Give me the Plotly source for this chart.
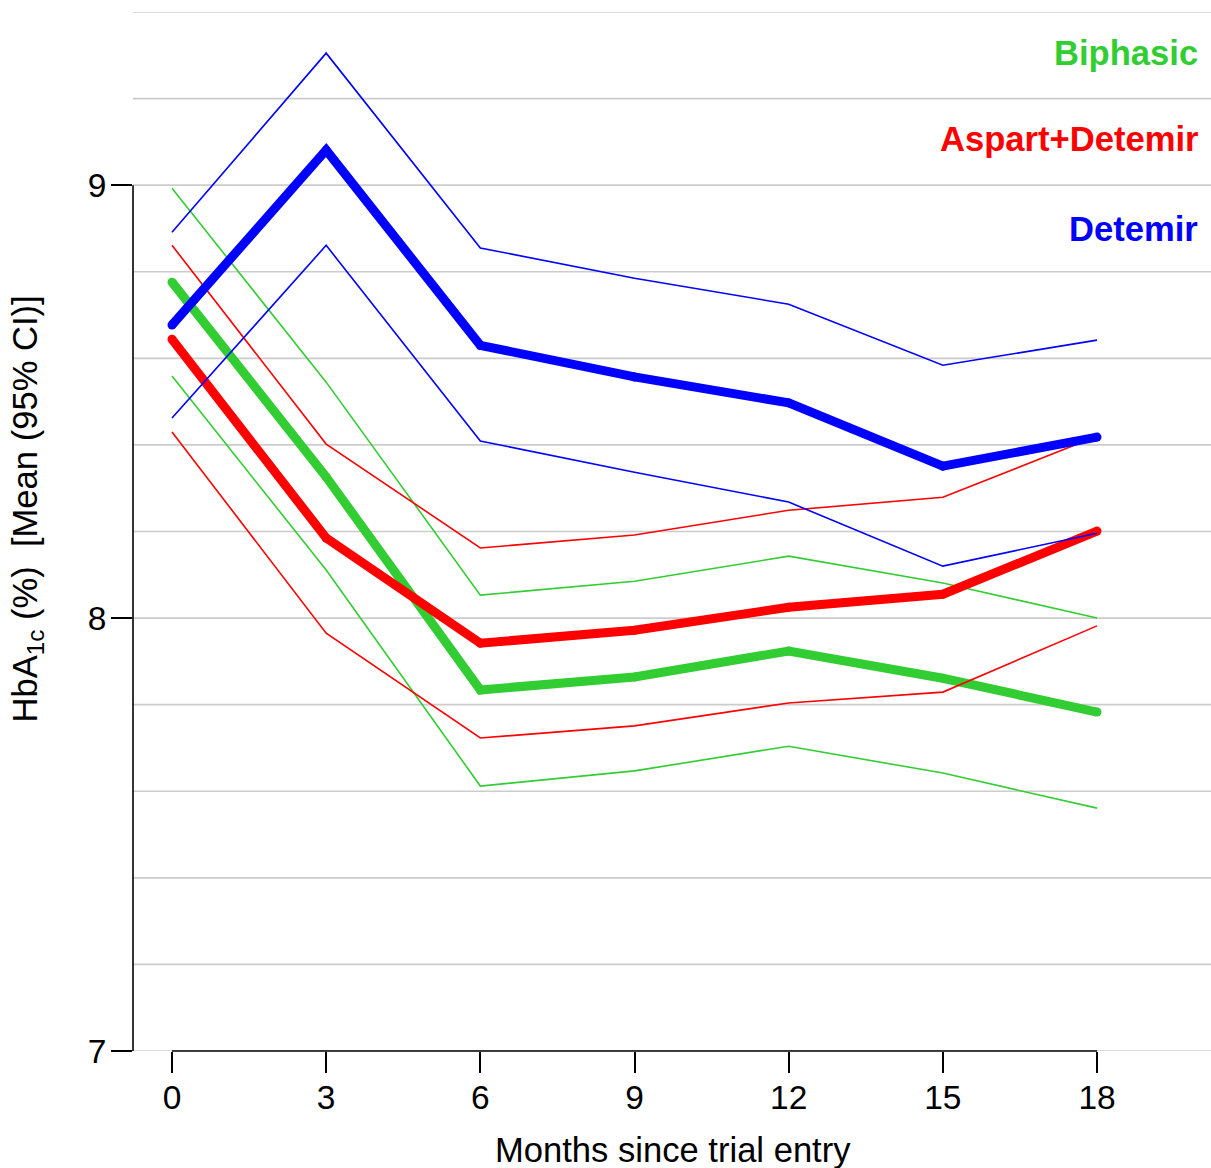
import plotly.graph_objects as go

months = [0, 3, 6, 9, 12, 15, 18]

detemir_mean = [8.677, 9.081, 8.630, 8.557, 8.497, 8.351, 8.418]
detemir_upper = [8.891, 9.305, 8.855, 8.785, 8.725, 8.584, 8.642]
detemir_lower = [8.462, 8.861, 8.409, 8.337, 8.268, 8.120, 8.196]

aspart_mean = [8.644, 8.185, 7.942, 7.972, 8.025, 8.055, 8.201]
aspart_upper = [8.861, 8.402, 8.162, 8.192, 8.249, 8.279, 8.420]
aspart_lower = [8.430, 7.965, 7.723, 7.751, 7.804, 7.829, 7.982]

biphasic_mean = [8.776, 8.326, 7.834, 7.864, 7.924, 7.861, 7.783]
biphasic_upper = [8.993, 8.545, 8.053, 8.085, 8.143, 8.081, 8.000]
biphasic_lower = [8.559, 8.111, 7.612, 7.647, 7.704, 7.642, 7.561]

x_ticks = [0, 3, 6, 9, 12, 15, 18]
y_ticks = [7, 8, 9]
grid_vals = [7.0, 7.2, 7.4, 7.6, 7.8, 8.0, 8.2, 8.4, 8.6, 8.8, 9.0, 9.2, 9.4]

groups = [
    ("Biphasic", "#32CD32", biphasic_mean, biphasic_upper, biphasic_lower),
    ("Aspart+Detemir", "#FF0000", aspart_mean, aspart_upper, aspart_lower),
    ("Detemir", "#0000FF", detemir_mean, detemir_upper, detemir_lower),
]

FONT = "Liberation Sans, Arial, sans-serif"
THICK = 9
THIN = 1.6

fig = go.Figure()
for name, col, m, u, l in groups:
    for ys in (u, l):
        fig.add_trace(go.Scatter(x=months, y=ys, mode="lines",
                                 line=dict(color=col, width=THIN),
                                 showlegend=False, hoverinfo="skip"))
    fig.add_trace(go.Scatter(x=months, y=m, mode="lines+markers",
                             line=dict(color=col, width=THICK),
                             marker=dict(color=col, size=THICK, line=dict(width=0)),
                             showlegend=False, name=name))

# grid lines
for g in grid_vals:
    fig.add_shape(type="line", xref="paper", x0=0, x1=1, yref="y", y0=g, y1=g,
                  line=dict(color="#CCCCCC", width=1.6), layer="below")

# legend texts
legend_y = [9.305, 9.106, 8.898]
for (name, col, *_), ly in zip(groups, legend_y):
    fig.add_annotation(text="<b>" + name + "</b>", x=0.9889, xref="paper",
                       y=ly, yref="y", xanchor="right", yanchor="middle",
                       showarrow=False, font=dict(family=FONT, size=34.6, color=col),
                       borderpad=0)

# axis lines (R style: only across tick range)
fig.add_shape(type="line", xref="paper", x0=0, x1=0, yref="y",
              y0=min(y_ticks), y1=max(y_ticks),
              line=dict(color="black", width=1.6), layer="above")
fig.add_shape(type="line", xref="x", x0=min(x_ticks), x1=max(x_ticks),
              yref="paper", y0=0, y1=0,
              line=dict(color="black", width=1.6), layer="above")

# axis titles
fig.add_annotation(text="HbA<sub>1c</sub> (%)\u00a0\u00a0[Mean (95% CI)]",
                   textangle=-90, x=-0.0983, xref="paper", y=0.5212, yref="paper",
                   xanchor="center", yanchor="middle", showarrow=False,
                   font=dict(family=FONT, size=34.6, color="black"))
fig.add_annotation(text="Months since trial entry", x=0.501, xref="paper",
                   y=-0.0953, yref="paper", xanchor="center", yanchor="middle",
                   showarrow=False, font=dict(family=FONT, size=34.6, color="black"))

fig.update_layout(
    width=1211, height=1168,
    margin=dict(l=133, r=0, t=12, b=117),
    plot_bgcolor="white", paper_bgcolor="white",
    showlegend=False,
    font=dict(family=FONT, size=33, color="black"),
    xaxis=dict(range=[-0.759, 20.218], tickvals=x_ticks, ticks="outside",
               ticklen=21, tickwidth=1.6, tickcolor="black",
               showgrid=False, zeroline=False, showline=False,
               ticklabelstandoff=-4,
               tickfont=dict(family=FONT, size=33.5)),
    yaxis=dict(range=[7, 9.4], tickvals=y_ticks, ticks="outside",
               ticklen=21, tickwidth=1.6, tickcolor="black",
               showgrid=False, zeroline=False, showline=False,
               ticklabelstandoff=-2,
               tickfont=dict(family=FONT, size=33.5)),
)

fig.write_html("out.html",
               config={"displayModeBar": False},
               post_script="document.body.style.margin='0';"
                           "document.body.style.overflow='hidden';")
